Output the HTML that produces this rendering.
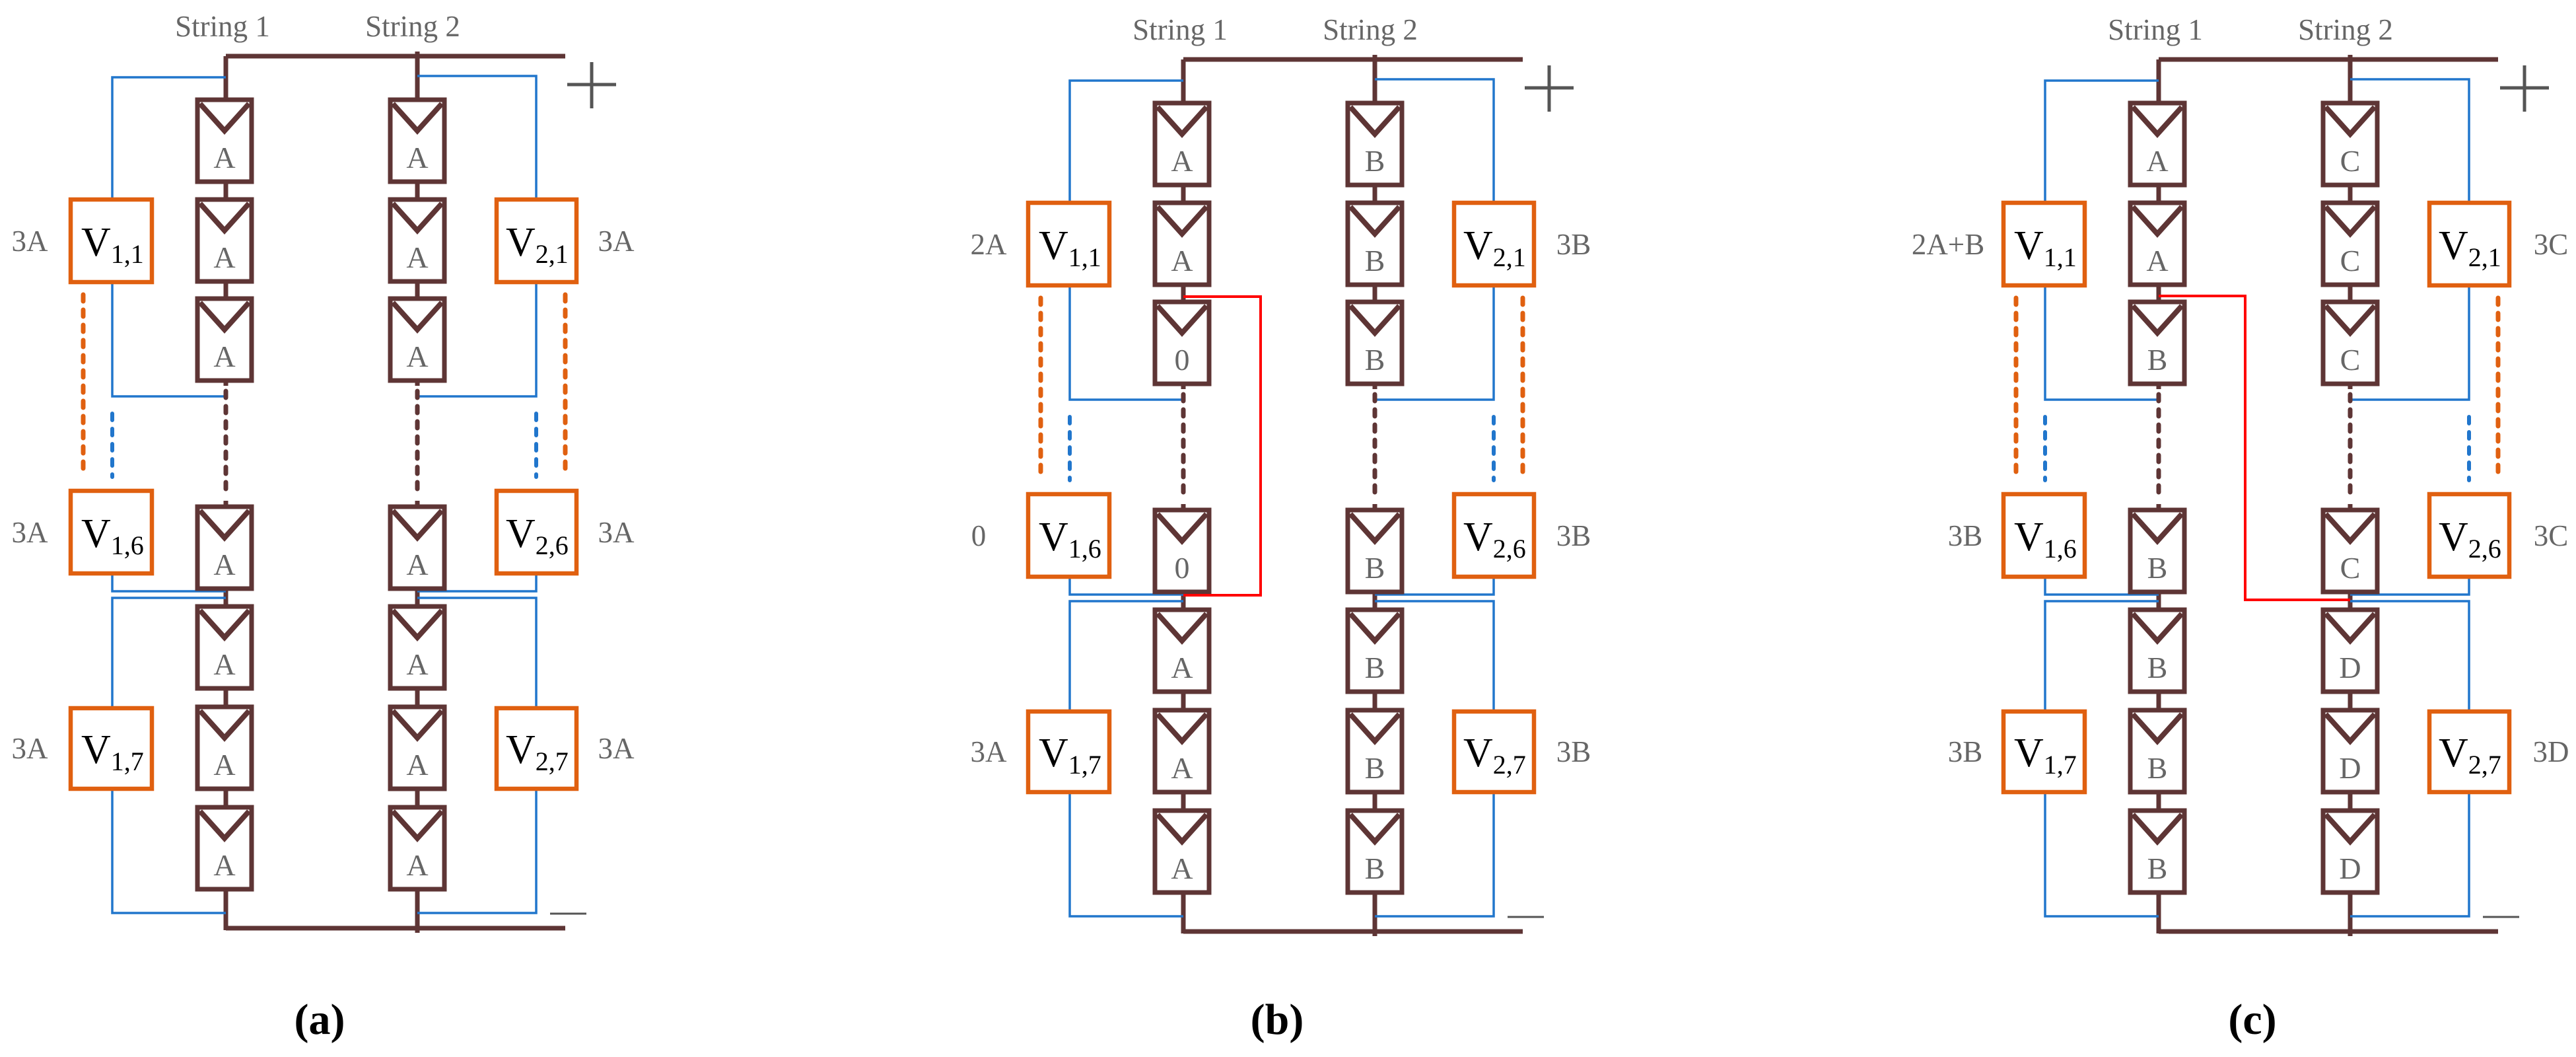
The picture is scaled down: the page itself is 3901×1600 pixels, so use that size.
<!DOCTYPE html>
<html><head><meta charset="utf-8"><style>
html,body{margin:0;padding:0;background:#fff;}
svg{display:block;}
.st{font-family:"Liberation Serif",serif;font-size:45px;fill:#666;text-anchor:middle;}
.ml{font-family:"Liberation Serif",serif;font-size:46px;fill:#666;text-anchor:middle;}
.lb{font-family:"Liberation Serif",serif;font-size:45px;fill:#666;text-anchor:middle;}
.bx{font-family:"Liberation Serif",serif;font-size:62px;fill:#000;}
.sb{font-size:40px;}
.cap{font-family:"Liberation Serif",serif;font-size:66px;font-weight:bold;fill:#000;text-anchor:middle;}
</style></head><body>
<svg width="3901" height="1600" viewBox="0 0 3901 1600" xmlns="http://www.w3.org/2000/svg">
<defs>
<g id="mod">
 <rect x="-41" y="3" width="82" height="124" fill="#fff" stroke="#5e3535" stroke-width="7"/>
 <polyline points="-37,9 0,50 37,9" fill="none" stroke="#5e3535" stroke-width="8"/>
</g>
<g id="base">
 <g stroke="#5e3535" stroke-width="7">
  <line x1="342" y1="85" x2="342" y2="584"/>
  <line x1="342" y1="758" x2="342" y2="1408"/>
  <line x1="632" y1="78" x2="632" y2="584"/>
  <line x1="632" y1="758" x2="632" y2="1412"/>
  <line x1="342" y1="85" x2="856" y2="85"/>
  <line x1="342" y1="1405" x2="856" y2="1405"/>
 </g>
 <g fill="none" stroke="#2176cc" stroke-width="3.5">
  <polyline points="342,117 170,117 170,303"/>
  <polyline points="170,429 170,600 342,600"/>
  <polyline points="170,868 170,895 342,895"/>
  <polyline points="342,905 170,905 170,1069"/>
  <polyline points="170,1195 170,1382 342,1382"/>
  <polyline points="632,115 812,115 812,303"/>
  <polyline points="812,429 812,600 632,600"/>
  <polyline points="812,868 812,895 632,895"/>
  <polyline points="632,905 812,905 812,1069"/>
  <polyline points="812,1195 812,1382 632,1382"/>
 </g>
 <g fill="none" stroke-linecap="round">
  <line x1="342" y1="592" x2="342" y2="752" stroke="#5e3535" stroke-width="7" stroke-dasharray="10 13"/>
  <line x1="632" y1="592" x2="632" y2="752" stroke="#5e3535" stroke-width="7" stroke-dasharray="10 13"/>
  <line x1="170" y1="626" x2="170" y2="722" stroke="#2176cc" stroke-width="6" stroke-dasharray="10 13"/>
  <line x1="812" y1="626" x2="812" y2="722" stroke="#2176cc" stroke-width="6" stroke-dasharray="10 13"/>
  <line x1="126" y1="446" x2="126" y2="712" stroke="#e06010" stroke-width="7" stroke-dasharray="10 13"/>
  <line x1="856" y1="446" x2="856" y2="712" stroke="#e06010" stroke-width="7" stroke-dasharray="10 13"/>
 </g>
 <g fill="#fff" stroke="#e06010" stroke-width="6.5">
  <rect x="107" y="302" width="123" height="125"/>
  <rect x="107" y="743" width="123" height="125"/>
  <rect x="107" y="1072" width="123" height="122"/>
  <rect x="752" y="302" width="121" height="125"/>
  <rect x="752" y="743" width="121" height="125"/>
  <rect x="752" y="1072" width="121" height="122"/>
 </g>
 <use href="#mod" x="340" y="148"/><use href="#mod" x="340" y="299"/><use href="#mod" x="340" y="449"/>
 <use href="#mod" x="340" y="764"/><use href="#mod" x="340" y="915"/><use href="#mod" x="340" y="1067"/><use href="#mod" x="340" y="1219"/>
 <use href="#mod" x="632" y="148"/><use href="#mod" x="632" y="299"/><use href="#mod" x="632" y="449"/>
 <use href="#mod" x="632" y="764"/><use href="#mod" x="632" y="915"/><use href="#mod" x="632" y="1067"/><use href="#mod" x="632" y="1219"/>
 <line x1="859" y1="128" x2="933" y2="128" stroke="#555" stroke-width="5"/>
 <line x1="896" y1="94" x2="896" y2="164" stroke="#555" stroke-width="5"/>
 <line x1="833" y1="1383" x2="888" y2="1383" stroke="#555" stroke-width="3"/>
</g>
</defs>

<g transform="translate(0,0)">
 <use href="#base"/>
 <text class="st" x="337" y="55">String 1</text>
 <text class="st" x="625" y="55">String 2</text>
 <g class="ml">
  <text x="340" y="254">A</text><text x="340" y="405">A</text><text x="340" y="555">A</text>
  <text x="340" y="870">A</text><text x="340" y="1021">A</text><text x="340" y="1173">A</text><text x="340" y="1325">A</text>
  <text x="632" y="254">A</text><text x="632" y="405">A</text><text x="632" y="555">A</text>
  <text x="632" y="870">A</text><text x="632" y="1021">A</text><text x="632" y="1173">A</text><text x="632" y="1325">A</text>
 </g>
 <g class="bx">
  <text x="123" y="387">V<tspan class="sb" dy="11">1,1</tspan></text>
  <text x="123" y="828">V<tspan class="sb" dy="11">1,6</tspan></text>
  <text x="123" y="1155">V<tspan class="sb" dy="11">1,7</tspan></text>
  <text x="766" y="387">V<tspan class="sb" dy="11">2,1</tspan></text>
  <text x="766" y="828">V<tspan class="sb" dy="11">2,6</tspan></text>
  <text x="766" y="1155">V<tspan class="sb" dy="11">2,7</tspan></text>
 </g>
 <g class="lb">
  <text x="45" y="380">3A</text><text x="45" y="821">3A</text><text x="45" y="1148">3A</text>
  <text x="933" y="380">3A</text><text x="933" y="821">3A</text><text x="933" y="1148">3A</text>
 </g>
 <text class="cap" x="484" y="1565">(a)</text>
</g>

<g transform="translate(1450,5)">
 <use href="#base"/>
 <text class="st" x="337" y="55">String 1</text>
 <text class="st" x="625" y="55">String 2</text>
 <g class="ml">
  <text x="340" y="254">A</text><text x="340" y="405">A</text><text x="340" y="555">0</text>
  <text x="340" y="870">0</text><text x="340" y="1021">A</text><text x="340" y="1173">A</text><text x="340" y="1325">A</text>
  <text x="632" y="254">B</text><text x="632" y="405">B</text><text x="632" y="555">B</text>
  <text x="632" y="870">B</text><text x="632" y="1021">B</text><text x="632" y="1173">B</text><text x="632" y="1325">B</text>
 </g>
 <polyline points="342,444 459,444 459,896 342,896" fill="none" stroke="#ff0000" stroke-width="4"/>
 <g class="bx">
  <text x="123" y="387">V<tspan class="sb" dy="11">1,1</tspan></text>
  <text x="123" y="828">V<tspan class="sb" dy="11">1,6</tspan></text>
  <text x="123" y="1155">V<tspan class="sb" dy="11">1,7</tspan></text>
  <text x="766" y="387">V<tspan class="sb" dy="11">2,1</tspan></text>
  <text x="766" y="828">V<tspan class="sb" dy="11">2,6</tspan></text>
  <text x="766" y="1155">V<tspan class="sb" dy="11">2,7</tspan></text>
 </g>
 <g class="lb">
  <text x="47" y="380">2A</text><text x="32" y="821">0</text><text x="47" y="1148">3A</text>
  <text x="933" y="380">3B</text><text x="933" y="821">3B</text><text x="933" y="1148">3B</text>
 </g>
 <text class="cap" x="484" y="1560">(b)</text>
</g>

<g transform="translate(2927,5)">
 <use href="#base"/>
 <text class="st" x="337" y="55">String 1</text>
 <text class="st" x="625" y="55">String 2</text>
 <g class="ml">
  <text x="340" y="254">A</text><text x="340" y="405">A</text><text x="340" y="555">B</text>
  <text x="340" y="870">B</text><text x="340" y="1021">B</text><text x="340" y="1173">B</text><text x="340" y="1325">B</text>
  <text x="632" y="254">C</text><text x="632" y="405">C</text><text x="632" y="555">C</text>
  <text x="632" y="870">C</text><text x="632" y="1021">D</text><text x="632" y="1173">D</text><text x="632" y="1325">D</text>
 </g>
 <polyline points="342,443 473,443 473,903 632,903" fill="none" stroke="#ff0000" stroke-width="4"/>
 <g class="bx">
  <text x="123" y="387">V<tspan class="sb" dy="11">1,1</tspan></text>
  <text x="123" y="828">V<tspan class="sb" dy="11">1,6</tspan></text>
  <text x="123" y="1155">V<tspan class="sb" dy="11">1,7</tspan></text>
  <text x="766" y="387">V<tspan class="sb" dy="11">2,1</tspan></text>
  <text x="766" y="828">V<tspan class="sb" dy="11">2,6</tspan></text>
  <text x="766" y="1155">V<tspan class="sb" dy="11">2,7</tspan></text>
 </g>
 <g class="lb">
  <text x="23" y="380">2A+B</text><text x="49" y="821">3B</text><text x="49" y="1148">3B</text>
  <text x="936" y="380">3C</text><text x="936" y="821">3C</text><text x="936" y="1148">3D</text>
 </g>
 <text class="cap" x="484" y="1560">(c)</text>
</g>
</svg>
</body></html>
